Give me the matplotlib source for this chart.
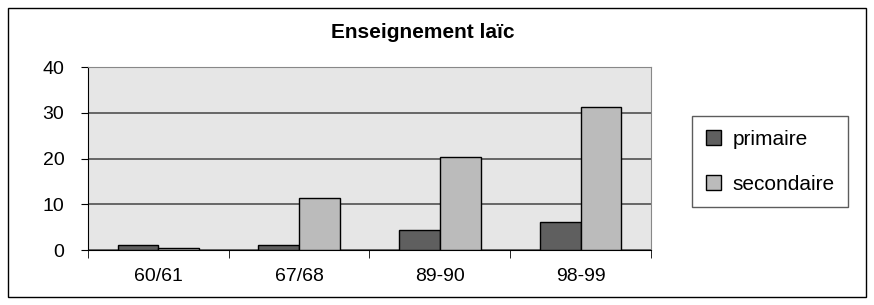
import numpy as np
import matplotlib.pyplot as plt
from matplotlib.patches import Rectangle

plt.rcParams['font.family'] = ['Liberation Sans', 'DejaVu Sans']

years = ['60/61', '67/68', '89-90', '98-99']
primaire = [1.1, 1.1, 4.3, 6.2]
secondaire = [0.5, 11.4, 20.4, 31.2]

fig = plt.figure(figsize=(8.74, 3.05), dpi=100)
ax = fig.add_axes([0.1007, 0.180, 0.644, 0.600])

x = np.arange(len(years))
w = 0.29
ax.bar(x - w / 2, primaire, w, color='#5f5f5f', edgecolor='black', linewidth=1, label='primaire', zorder=3)
ax.bar(x + w / 2, secondaire, w, color='#bbbbbb', edgecolor='black', linewidth=1, label='secondaire', zorder=3)

ax.set_facecolor('#e6e6e6')
ax.set_xlim(-0.5, len(years) - 0.5)
ax.set_ylim(0, 40)
ax.set_yticks([0, 10, 20, 30, 40])
ax.yaxis.grid(True, color='#505050', linewidth=1.2, zorder=1)
ax.set_xticks(x)
ax.set_xticklabels(years)
ax.set_xticks(np.arange(len(years) + 1) - 0.5, minor=True)
ax.tick_params(axis='x', which='major', length=0, pad=13, labelsize=14)
ax.tick_params(axis='x', which='minor', length=6, direction='out')
ax.tick_params(axis='y', length=5, labelsize=14, pad=12)
for s in ['top', 'right']:
    ax.spines[s].set_color('#888888')
ax.spines['left'].set_color('black')
ax.spines['bottom'].set_color('black')

fig.text(423 / 874, 1 - 33 / 305, 'Enseignement laïc', fontsize=15, fontweight='bold',
         ha='center', va='center')

leg = ax.legend(loc='upper left', bbox_to_anchor=(692 / 874, 1 - 116 / 305),
                bbox_transform=fig.transFigure, fancybox=False,
                edgecolor='#333333', fontsize=15, handlelength=0.72, handleheight=0.72,
                labelspacing=1.25, borderpad=0.65, handletextpad=0.58, borderaxespad=0)
leg.get_frame().set_linewidth(1)

fig.patches.append(Rectangle((0.009, 0.026), 0.982, 0.948, transform=fig.transFigure,
                             fill=False, edgecolor='black', linewidth=1))

fig.savefig('out.png', dpi=100)
